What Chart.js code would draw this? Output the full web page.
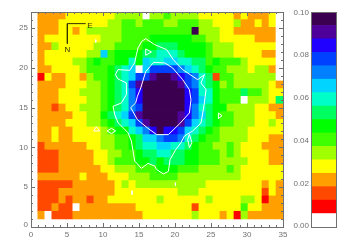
<!DOCTYPE html>
<html>
<head>
  <meta charset="UTF-8">
  <title>map</title>
  <script src="https://cdn.jsdelivr.net/npm/chart.js"></script>
  <style>
    body { margin: 0; padding: 0; background: #fff; }
    canvas { position: absolute; left: 0; top: 0; }
  </style>
</head>
<body>
  <canvas id="mapChart" width="346" height="247"></canvas>
  <canvas id="barChart" width="346" height="247"></canvas>

  <script>
    // colour table, one entry per 0.00625 band of the bar (0.00 to 0.10)
    const bandStep = 0.00625;
    const bandColors = ['#ffffff', '#ff0000', '#ff4800', '#ffa000', '#ffff00', '#a0ff00', '#40ff00', '#00ff00',
      '#00ff60', '#00ffc8', '#00d4ff', '#0080ff', '#0040ff', '#2000ff', '#50009a', '#3c0050'];

    // band number of every cell, top row first
    const row00 = [3,3,3,3,4,4,4,4,4,4,4,5,5,5,5,0,5,5,6,5,5,5,5,4,4,4,4,4,3,4,3,3,3,4,0];
    const row01 = [3,3,3,4,4,4,4,4,4,4,5,5,6,6,5,6,6,6,5,5,6,6,6,5,5,4,4,4,5,3,3,4,3,4,0];
    const row02 = [3,3,3,4,4,3,4,5,5,5,5,5,6,6,6,6,6,6,6,6,6,6,15,5,5,5,4,4,3,3,3,3,3,3,0];
    const row03 = [3,4,4,4,4,4,4,4,4,5,5,5,6,6,6,6,7,7,7,7,7,7,6,6,5,5,4,4,4,4,4,3,3,3,0];
    const row04 = [3,3,5,4,4,4,4,4,5,5,5,6,6,6,6,7,7,8,8,8,7,7,7,7,6,5,5,5,4,4,4,4,4,4,0];
    const row05 = [3,4,4,4,4,4,4,5,5,10,6,7,7,7,7,8,8,9,9,9,8,7,7,7,6,5,5,5,4,4,4,4,3,3,0];
    const row06 = [3,4,4,4,4,5,5,6,7,6,6,7,7,9,7,10,9,9,10,10,9,9,8,8,6,7,6,6,6,5,4,4,4,4,0];
    const row07 = [3,3,4,4,4,4,5,6,6,6,7,8,9,10,0,10,12,12,12,12,11,10,9,8,7,6,6,5,5,5,4,5,5,3,0];
    const row08 = [1,4,3,3,4,4,3,5,6,6,7,8,9,10,12,12,14,15,15,14,13,12,11,9,8,2,6,6,5,5,5,5,5,5,0];
    const row09 = [3,3,3,3,4,4,4,5,5,6,7,8,9,12,14,15,15,15,15,15,14,12,11,9,8,7,5,6,5,5,5,5,5,4,3];
    const row10 = [3,3,3,4,4,4,5,5,5,6,7,8,9,11,13,15,15,15,15,15,15,13,12,9,9,7,6,6,6,8,6,6,5,4,4];
    const row11 = [3,3,3,4,4,4,4,5,5,6,7,8,9,11,13,15,15,15,15,15,15,13,12,10,9,7,6,6,6,0,5,5,5,4,8];
    const row12 = [3,3,2,3,4,4,5,5,5,6,7,8,9,11,12,15,15,15,15,15,15,13,11,9,8,7,7,5,5,5,5,4,4,3,3];
    const row13 = [3,3,3,3,3,4,4,5,5,7,8,9,10,12,14,15,15,15,15,15,14,13,11,10,8,7,6,6,5,5,5,4,4,4,3];
    const row14 = [3,3,3,3,4,4,4,5,5,6,7,8,9,10,12,14,15,15,15,15,14,12,10,9,8,7,6,6,5,5,5,4,4,5,4];
    const row15 = [3,3,4,3,3,4,4,4,4,5,6,7,7,9,10,11,13,15,13,13,12,10,9,8,7,6,5,5,5,5,4,4,4,4,4];
    const row16 = [3,3,4,3,3,4,4,4,4,5,5,6,6,7,8,10,10,11,12,12,11,9,8,7,6,6,5,5,5,5,4,4,4,3,3];
    const row17 = [2,3,3,3,3,3,3,4,4,5,5,6,6,7,8,9,9,10,10,9,9,8,7,6,6,5,5,6,5,4,4,4,3,3,3];
    const row18 = [2,2,2,3,3,3,3,3,4,4,5,5,6,6,7,8,8,9,9,8,8,7,7,6,6,6,5,6,5,4,4,4,4,3,3];
    const row19 = [2,2,2,3,3,3,3,3,4,4,5,6,6,6,7,7,8,7,8,8,8,7,7,6,6,6,5,5,5,5,4,4,4,3,3];
    const row20 = [2,2,2,3,3,3,3,3,3,4,4,5,5,5,6,6,6,7,7,7,6,6,6,5,5,5,5,6,5,4,4,4,4,4,4];
    const row21 = [3,3,3,3,3,3,4,3,3,3,4,4,4,5,5,5,6,6,6,6,5,5,5,5,5,5,5,5,5,4,4,4,4,4,4];
    const row22 = [2,2,2,2,2,3,3,3,3,3,3,4,5,4,5,5,5,5,5,5,5,5,5,5,4,4,4,4,4,4,4,4,3,4,3];
    const row23 = [2,2,2,3,3,3,3,3,3,3,3,4,4,4,4,4,4,4,4,4,5,5,5,4,4,4,4,4,4,4,4,4,2,4,3];
    const row24 = [2,2,2,3,2,3,3,2,3,3,4,4,4,4,4,4,4,5,4,4,4,4,4,4,5,4,4,4,4,5,5,4,1,3,3];
    const row25 = [2,2,3,2,2,0,3,3,3,3,3,3,3,3,4,4,4,4,4,4,4,4,2,4,4,4,4,4,4,6,4,4,3,3,3];
    const row26 = [3,0,2,2,2,3,3,3,3,3,3,3,3,3,3,4,4,4,4,4,4,4,5,4,4,4,3,4,1,5,3,3,3,3,3];
    const bandRows = [row00, row01, row02, row03, row04, row05, row06, row07, row08, row09, row10, row11, row12, row13,
      row14, row15, row16, row17, row18, row19, row20, row21, row22, row23, row24, row25, row26];

    // cell grid in axis units
    const cellWidth = 0.973;
    const cellHeight = 0.9625;
    const gridRight = 35;
    const gridTop = 27;

    // contours, x then y in axis units
    const outerX = [15.93,17.18,18.85,19.75,21.07,23.15,24.08,23.61,24.31,24.08,23.85,23.61,22.46,21.31,20.83,20.10,19.31,19.08,18.39,17.46,17.18,16.25,15.33,14.40,14.17,13.94,13.47,12.08,11.63,11.39,12.56,13.25,13.25,12.08,11.72,12.08,13.71,14.40,14.64,14.86,15.38,15.93];
    const outerY = [23.65,22.90,22.27,21.02,19.76,18.50,19.13,18.09,17.25,15.58,14.32,13.07,12.06,11.43,10.59,9.71,8.45,6.98,6.66,7.20,7.66,7.99,7.36,8.29,9.55,10.80,11.85,13.10,14.11,15.15,15.58,16.62,18.09,18.59,19.13,19.76,19.67,20.64,21.65,22.49,23.32,23.65];
    const innerX = [17.04,18.61,19.68,21.07,22.00,22.22,22.00,20.65,19.08,17.46,16.17,14.78,13.85,14.54,14.78,15.24,15.93,17.04];
    const innerY = [20.68,20.60,19.97,18.50,17.25,15.99,14.32,12.98,11.60,11.60,12.44,13.48,14.99,15.58,16.41,17.46,19.51,20.68];
    const loopAX = [15.93,16.72,15.93,15.93];
    const loopAY = [22.36,21.98,21.56,22.36];
    const loopBX = [9.08,9.54,8.71,9.08];
    const loopBY = [12.60,12.06,12.06,12.60];
    const loopCX = [10.56,11.17,11.76,11.17,10.56];
    const loopCY = [12.06,12.39,12.06,11.72,12.06];
    const loopDX = [26.03,26.53,26.03,26.03];
    const loopDY = [14.32,13.98,13.61,14.32];
    const loopEX = [21.76,22.00,22.36,22.00,21.76];
    const loopEY = [11.00,11.63,10.59,9.96,11.00];
    const specAX = [14.03,14.03];
    const specAY = [4.56,4.06];
    const specBX = [20.06,20.06];
    const specBY = [5.56,5.19];
    const specCX = [8.99,8.99];
    const specCY = [23.53,23.15];

    // N / E arrow
    const arrowX = [7.6,5.05,5.05];
    const arrowY = [25.54,25.54,23.03];
    const compassText = ['E', 'N'];
    const compassX = [8.2, 5.05];
    const compassY = [25.3, 22.3];

    // end labels sit a little inside the axis ends, so these are nudged off 0.00 and 0.10
    const barTicks = [0.0006, 0.02, 0.04, 0.06, 0.08, 0.0995];

    const axisColor = '#707070';
    const labelFont = { family: '"Liberation Sans", Arial, sans-serif', size: 8 };

    function toPoints(xs, ys) {
      return xs.map((x, i) => ({ x: x, y: ys[i] }));
    }

    // cells as floating bars
    const cells = [];
    const cellColors = [];
    bandRows.forEach((row, r) => {
      const top = gridTop - r * cellHeight;
      row.forEach((band, c) => {
        const left = gridRight - (row.length - c) * cellWidth;
        cells.push({ x: left + cellWidth / 2, y: [top - cellHeight, top], value: band * bandStep });
        cellColors.push(bandColors[band]);
      });
    });

    function contour(xs, ys, color) {
      return {
        type: 'line',
        data: toPoints(xs, ys),
        borderColor: color || '#ffffff',
        borderWidth: 1,
        pointRadius: 0,
        tension: 0,
        fill: false,
        order: 0
      };
    }

    // inward ticks on all four sides plus the frame
    const frameTicks = {
      id: 'frameTicks',
      afterDraw(chart) {
        const { ctx, chartArea: a, scales } = chart;
        ctx.save();
        ctx.strokeStyle = axisColor;
        ctx.lineWidth = 1;
        ctx.beginPath();
        for (let v = 0; v <= 35; v++) {
          const px = Math.round(scales.x.getPixelForValue(v)) + 0.5;
          const len = v % 5 === 0 ? 4 : 2;
          ctx.moveTo(px, a.bottom); ctx.lineTo(px, a.bottom - len);
          ctx.moveTo(px, a.top); ctx.lineTo(px, a.top + len);
        }
        for (let v = 0; v <= 27; v++) {
          const py = Math.round(scales.y.getPixelForValue(v)) + 0.5;
          const len = v % 5 === 0 ? 4 : 2;
          ctx.moveTo(a.left, py); ctx.lineTo(a.left + len, py);
          ctx.moveTo(a.right, py); ctx.lineTo(a.right - len, py);
        }
        ctx.stroke();
        ctx.strokeRect(a.left + 0.5, a.top + 0.5, a.right - a.left, a.bottom - a.top);
        // compass letters
        ctx.fillStyle = '#333300';
        ctx.font = '8px "Liberation Sans", Arial, sans-serif';
        ctx.textAlign = 'center';
        ctx.textBaseline = 'middle';
        compassText.forEach((t, i) => {
          ctx.fillText(t, scales.x.getPixelForValue(compassX[i]), scales.y.getPixelForValue(compassY[i]));
        });
        ctx.restore();
      }
    };

    const barFrame = {
      id: 'barFrame',
      afterDraw(chart) {
        const { ctx, chartArea: a } = chart;
        ctx.save();
        ctx.strokeStyle = axisColor;
        ctx.strokeRect(a.left + 0.5, a.top + 0.5, a.right - a.left, a.bottom - a.top);
        ctx.restore();
      }
    };

    new Chart(document.getElementById('mapChart'), {
      type: 'bar',
      data: {
        datasets: [
          contour(outerX, outerY),
          contour(innerX, innerY),
          contour(loopAX, loopAY),
          contour(loopBX, loopBY),
          contour(loopCX, loopCY),
          contour(loopDX, loopDY),
          contour(loopEX, loopEY),
          contour(specAX, specAY),
          contour(specBX, specBY),
          contour(specCX, specCY),
          contour(arrowX, arrowY, '#333300'),
          {
            type: 'bar',
            data: cells,
            backgroundColor: cellColors,
            borderWidth: 0,
            barPercentage: 1,
            categoryPercentage: 1,
            order: 1
          }
        ]
      },
      options: {
        responsive: false,
        animation: false,
        layout: { padding: { left: 0, right: 63, top: 12, bottom: 0 } },
        plugins: { legend: { display: false }, tooltip: { enabled: false } },
        scales: {
          x: {
            type: 'linear',
            min: 0,
            max: 35,
            offset: false,
            afterFit: (s) => { s.height = 20; },
            grid: { display: false, offset: false, drawTicks: false },
            border: { display: false },
            ticks: {
              stepSize: 5,
              autoSkip: false,
              maxRotation: 0,
              padding: 3,
              color: axisColor,
              font: labelFont
            }
          },
          y: {
            type: 'linear',
            min: 0,
            max: 27,
            afterFit: (s) => { s.width = 31; },
            // the 0 label sits just above the corner
            afterBuildTicks: (s) => { s.ticks[0].value = 0.3; },
            grid: { display: false, drawTicks: false },
            border: { display: false },
            ticks: {
              stepSize: 5,
              autoSkip: false,
              padding: 3,
              color: axisColor,
              font: labelFont,
              callback: (v) => (v % 5 < 1 ? String(Math.floor(v)) : '')
            }
          }
        }
      },
      plugins: [frameTicks]
    });

    new Chart(document.getElementById('barChart'), {
      type: 'bar',
      data: {
        labels: [''],
        datasets: bandColors.map((color) => ({
          data: [bandStep],
          backgroundColor: color,
          borderWidth: 0,
          barPercentage: 1,
          categoryPercentage: 1
        }))
      },
      options: {
        responsive: false,
        animation: false,
        layout: { padding: { left: 0, right: 10, top: 12, bottom: 20 } },
        plugins: { legend: { display: false }, tooltip: { enabled: false } },
        scales: {
          x: { display: false, stacked: true },
          y: {
            stacked: true,
            min: 0,
            max: 0.1,
            afterFit: (s) => { s.width = 311; },
            afterBuildTicks: (s) => { s.ticks = barTicks.map((v) => ({ value: v })); },
            grid: { display: false, drawTicks: false },
            border: { display: false },
            ticks: {
              padding: 2,
              color: axisColor,
              font: labelFont,
              callback: (v) => v.toFixed(2)
            }
          }
        }
      },
      plugins: [barFrame]
    });
  </script>
</body>
</html>
